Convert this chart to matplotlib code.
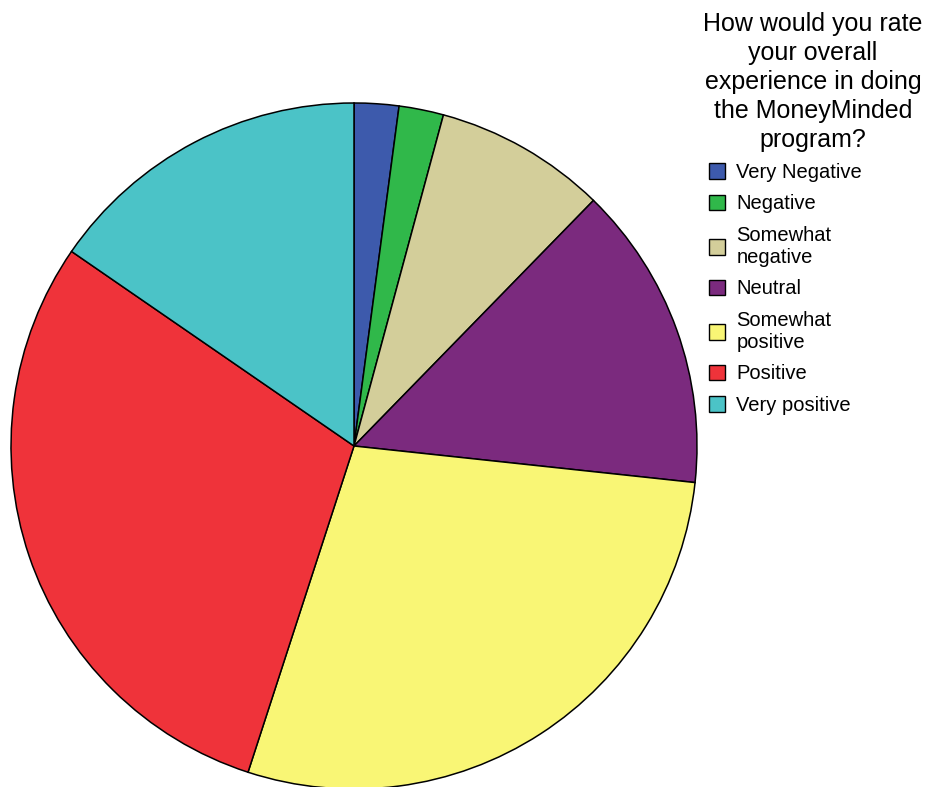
import matplotlib.pyplot as plt

plt.rcParams['font.family'] = ['Liberation Sans', 'DejaVu Sans']

categories = ['Very Negative', 'Negative', 'Somewhat\nnegative', 'Neutral',
              'Somewhat\npositive', 'Positive', 'Very positive']
percent = [2.1, 2.1, 8.1, 14.4, 28.3, 29.6, 15.4]
colors = ['#3d5aac', '#30b84a', '#d3ce9a', '#7b2a7e',
          '#f9f675', '#ef333a', '#4bc3c7']
title = 'How would you rate\nyour overall\nexperience in doing\nthe MoneyMinded\nprogram?'

W, H = 925, 787
fig = plt.figure(figsize=(W / 100, H / 100), dpi=100)

# pie centre and radius in pixels
cx, cy, r = 354, 446, 343
half = r * 1.1
ax = fig.add_axes([(cx - half) / W, (H - cy - half) / H, 2 * half / W, 2 * half / H])
wedges, _ = ax.pie(percent, colors=colors, startangle=90, counterclock=False,
                   wedgeprops=dict(edgecolor='black', linewidth=1.1))
ax.set_xlim(-1.1, 1.1)
ax.set_ylim(-1.1, 1.1)
ax.set_aspect('equal')
ax.axis('off')

fig.text(813 / W, 1 - 12 / H, title, ha='center', va='top',
         fontsize=18, linespacing=1.26, multialignment='center')

leg = fig.legend(wedges, categories, loc='upper left',
                 bbox_to_anchor=(709 / W, 1 - 163 / H), frameon=False,
                 fontsize=14.5, borderpad=0, borderaxespad=0,
                 handlelength=0.8, handleheight=0.8, handletextpad=0.55,
                 labelspacing=0.62)
for t in leg.get_texts():
    t.set_linespacing(1.2)
for h in leg.legend_handles:
    h.set_linewidth(1.0)

fig.savefig('out.png', dpi=100)
